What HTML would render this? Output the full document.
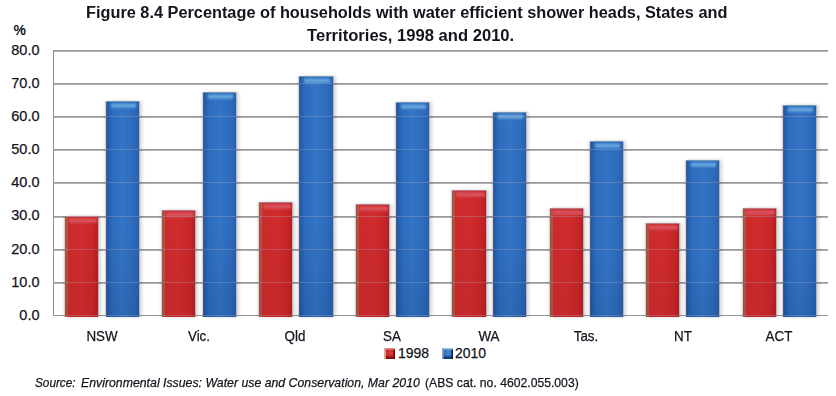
<!DOCTYPE html>
<html><head><meta charset="utf-8"><style>
html,body{margin:0;padding:0;background:#fff;}
body{width:836px;height:396px;position:relative;overflow:hidden;font-family:"Liberation Sans",sans-serif;color:#14141e;}
.yl,.cl,.lg,.src{-webkit-text-stroke:0.25px #14141e;}
.t{position:absolute;white-space:nowrap;font-weight:bold;font-size:16px;line-height:16px;transform-origin:0 0;}
.g{position:absolute;left:53px;width:775px;height:2px;background:linear-gradient(#8e8e92 50%,#b0b0b8 50%);}
.go{position:absolute;left:53px;width:775px;height:1px;background:rgba(175,175,190,0.3);}
.ax{position:absolute;left:52.8px;top:50px;width:1.4px;height:266px;background:#8e8e92;}
.yl{position:absolute;left:0;width:39.5px;text-align:right;font-size:14.5px;line-height:18px;}
.bar{position:absolute;width:33.3px;box-sizing:border-box;}
.bar::before{content:"";position:absolute;left:3.5px;right:1px;top:1px;height:5px;filter:blur(0.8px);}
.r{background:linear-gradient(180deg,rgba(0,0,0,0) 10%,rgba(40,0,0,0.06) 100%),linear-gradient(90deg,#a85040 0,#b05844 3px,#cc2a2c 3.5px,#d02c2e 50%,#c82628 85%,#b02024 100%);box-shadow:1px 0 0 rgba(110,95,95,0.3),3px 0 3px rgba(0,0,0,0.16),-1px 0 0 rgba(110,95,95,0.18),-2px 0 2px rgba(0,0,0,0.08);border-top:1px solid #b88090;}
.r::before{background:linear-gradient(#d4404a,#da5862 45%,#d44650);}
.b{background:linear-gradient(180deg,rgba(0,0,0,0) 60%,rgba(0,10,40,0.1) 100%),linear-gradient(90deg,#6a6080 0,#1f58a6 1.2px,#2562b2 3px,#2e6cbe 20%,#3474c4 50%,#2e6cbe 80%,#2860b0 100%);box-shadow:1px 0 0 rgba(110,95,95,0.3),3px 0 3px rgba(0,0,0,0.16),-1px 0 0 rgba(110,95,95,0.18),-2px 0 2px rgba(0,0,0,0.08);border-top:1px solid #7898b8;}
.b::before{left:5px;right:3px;background:linear-gradient(#3c7cc8,#72b0e2 50%,#4e8ed2);}
.cl{position:absolute;top:328px;width:80px;text-align:center;font-size:14.4px;line-height:16px;transform:scaleX(0.93);}
.lg{position:absolute;top:346px;font-size:14px;line-height:14px;}
.sq{position:absolute;width:10.8px;height:11px;top:348px;}
.src{position:absolute;left:35px;top:376px;font-size:13px;line-height:14px;white-space:nowrap;transform-origin:0 0;transform:scaleX(0.94);}
</style></head><body>
<div class="t" style="left:86px;top:5.2px;transform:scaleX(1.019)">Figure 8.4 Percentage of households with water efficient shower heads, States and</div>
<div class="t" style="left:307px;top:27.5px;transform:scaleX(1.037)">Territories, 1998 and 2010.</div>
<div class="t" style="left:13.5px;top:22px;font-size:14px;">%</div>
<div class="g" style="top:50.0px"></div>
<div class="yl" style="top:40.9px">80.0</div>
<div class="g" style="top:83.1px"></div>
<div class="yl" style="top:74.0px">70.0</div>
<div class="g" style="top:116.2px"></div>
<div class="yl" style="top:107.1px">60.0</div>
<div class="g" style="top:149.3px"></div>
<div class="yl" style="top:140.2px">50.0</div>
<div class="g" style="top:182.4px"></div>
<div class="yl" style="top:173.3px">40.0</div>
<div class="g" style="top:215.5px"></div>
<div class="yl" style="top:206.4px">30.0</div>
<div class="g" style="top:248.6px"></div>
<div class="yl" style="top:239.5px">20.0</div>
<div class="g" style="top:281.7px"></div>
<div class="yl" style="top:272.6px">10.0</div>
<div class="g" style="top:315px;height:1px;background:#88888a"></div>
<div class="yl" style="top:305.7px">0.0</div>
<div class="ax"></div>
<div class="bar r" style="left:65.2px;top:215.9px;height:100.9px"></div>
<div class="bar b" style="left:106.0px;top:100.7px;height:216.1px"></div>
<div class="cl" style="left:61.7px">NSW</div>
<div class="bar r" style="left:162.0px;top:210.3px;height:106.5px"></div>
<div class="bar b" style="left:202.6px;top:91.8px;height:225.0px"></div>
<div class="cl" style="left:158.5px">Vic.</div>
<div class="bar r" style="left:259.1px;top:202.2px;height:114.6px"></div>
<div class="bar b" style="left:299.3px;top:76.3px;height:240.5px"></div>
<div class="cl" style="left:255.3px">Qld</div>
<div class="bar r" style="left:355.5px;top:204.2px;height:112.6px"></div>
<div class="bar b" style="left:396.2px;top:101.9px;height:214.9px"></div>
<div class="cl" style="left:352.1px">SA</div>
<div class="bar r" style="left:452.4px;top:190.3px;height:126.5px"></div>
<div class="bar b" style="left:493.1px;top:111.5px;height:205.3px"></div>
<div class="cl" style="left:448.9px">WA</div>
<div class="bar r" style="left:549.6px;top:208.2px;height:108.6px"></div>
<div class="bar b" style="left:589.5px;top:141.1px;height:175.7px"></div>
<div class="cl" style="left:545.7px">Tas.</div>
<div class="bar r" style="left:645.6px;top:222.8px;height:94.0px"></div>
<div class="bar b" style="left:686.0px;top:160.0px;height:156.8px"></div>
<div class="cl" style="left:642.5px">NT</div>
<div class="bar r" style="left:742.7px;top:207.5px;height:109.3px"></div>
<div class="bar b" style="left:783.0px;top:104.8px;height:212.0px"></div>
<div class="cl" style="left:739.3px">ACT</div>
<div class="go" style="top:50.0px"></div>
<div class="go" style="top:83.1px"></div>
<div class="go" style="top:116.2px"></div>
<div class="go" style="top:149.3px"></div>
<div class="go" style="top:182.4px"></div>
<div class="go" style="top:215.5px"></div>
<div class="go" style="top:248.6px"></div>
<div class="go" style="top:281.7px"></div>
<div class="go" style="top:314.8px"></div>
<div class="sq" style="left:384.3px;background:radial-gradient(circle at 60% 40%,#e03a3a,#c42020 70%);box-shadow:inset 2px 0 0 #d8a090,inset 0 1.5px 0 #d89090,inset -1.5px 0 0 #700808,inset 0 -2.5px 0 #8a1010;"></div>
<div class="lg" style="left:398px">1998</div>
<div class="sq" style="left:442.3px;background:radial-gradient(circle at 60% 40%,#4a88cc,#2a64b0 70%);box-shadow:inset 1.5px 0 0 #8aa8d0,inset 0 1.5px 0 #90c8d8,inset -1.5px 0 0 #0a2048,inset 0 -2.5px 0 #143a78;"></div>
<div class="lg" style="left:455px">2010</div>
<div class="src" style="left:35px;transform:scaleX(0.905)"><i>Source:</i></div>
<div class="src" style="left:81.3px;transform:scaleX(0.946)"><i>Environmental Issues: Water use and Conservation, Mar 2010</i></div>
<div class="src" style="left:424.5px;transform:scaleX(0.937)">(ABS cat. no. 4602.055.003)</div>
</body></html>
